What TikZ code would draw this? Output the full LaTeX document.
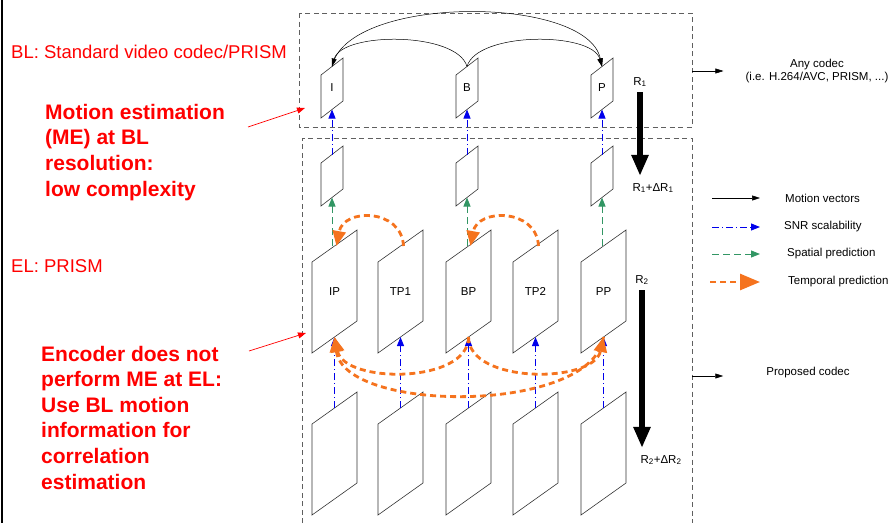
\documentclass[tikz,border=0pt]{standalone}
\usepackage{fontspec}
\setmainfont{Liberation Sans}
\usetikzlibrary{arrows.meta}

\definecolor{notered}{RGB}{255,0,0}
\definecolor{snrblue}{RGB}{0,0,235}
\definecolor{spatgreen}{RGB}{50,150,100}
\definecolor{temporange}{RGB}{245,115,30}
\definecolor{boxgray}{RGB}{95,95,95}

% one frame of the sequence: name, x, y of lower left corner, width, height, skew
\newcommand{\vframe}[6]{%
  \draw[frm] (#2,#3) -- ++(0,-#5) -- ++(#4,-#6) -- ++(0,#5) -- cycle;
  \coordinate (#1-t) at (#2+#4/2,#3-#5-#6/2);
  \coordinate (#1-b) at (#2+#4/2,#3-#6/2);
  \coordinate (#1-c) at (#2+#4/2,#3-#5/2-#6/2);
}

\tikzset{
  frm/.style={draw=black!80, line width=0.6pt},
  layerbox/.style={draw=boxgray, dash pattern=on 5pt off 3.5pt, line width=0.9pt},
  mv/.style={-{Triangle[length=8pt,width=5pt]}, line width=0.5pt},
  snr/.style={snrblue, line width=0.9pt, dash pattern=on 7pt off 3pt on 1pt off 3pt, -{Triangle[length=9pt,width=7pt]}},
  spat/.style={spatgreen, line width=0.9pt, dash pattern=on 7pt off 4pt, -{Triangle[length=9pt,width=7pt]}},
  temp/.style={temporange, line width=2.8pt, dash pattern=on 6pt off 4pt, -{Triangle[length=15pt,width=13pt]}},
  rate/.style={line width=5.5pt, -{Triangle[length=21pt,width=16pt]}},
  pointer/.style={notered, line width=0.7pt, -{Triangle[length=8pt,width=6pt]}},
  lbl/.style={font=\fontsize{11.5}{13.5}\selectfont, inner sep=0pt},
  note/.style={text=notered, inner sep=0pt, anchor=base west, align=left},
}

\begin{document}
\begin{tikzpicture}[x=1pt,y=-1pt]
  \useasboundingbox (0,0) rectangle (892,523);
  \draw[line width=2pt] (2,0) -- (2,523);

  % layers
  \draw[layerbox] (299,13) rectangle (692,127);
  \draw[layerbox] (302,523) -- (302,138) -- (692,138) -- (692,523);

  % base layer frames and their low resolution copies
  \foreach \nm/\x in {I/321,B/456,P/591} {
    \vframe{\nm}{\x}{118}{22}{43}{17}
    \node[lbl] (\nm-txt) at (\nm-c) {\nm};
    \vframe{\nm-el}{\x}{206}{22}{43}{17}
    \draw[snr] (\nm-el-t) -- (\nm-b);
  }

  % enhancement layer frames
  \foreach \nm/\x in {IP/312,TP1/378,BP/446,TP2/513,PP/581} {
    \vframe{\nm}{\x}{353}{45}{91}{32}
    \node[lbl] (\nm-txt) at (\nm-c) {\nm};
    \vframe{\nm-low}{\x}{515}{45}{91}{32}
    \draw[snr] (\nm-low-t) -- (\nm-b);
  }

  \draw[spat] (I-el-b |- IP-t) -- (I-el-b);
  \draw[spat] (B-el-b |- BP-t) -- (B-el-b);
  \draw[spat] (P-el-b |- PP-t) -- (P-el-b);

  % motion vectors
  \draw[mv] (B-t) .. controls +(-10,-35) and +(10,-35) .. (I-t);
  \draw[mv] (B-t) .. controls +(10,-35) and +(-10,-35) .. (P-t);
  \draw[mv] (I-t) .. controls +(15,-72) and +(-15,-72) .. (P-t);

  % temporal prediction
  \draw[temp] ([xshift=3pt]TP1-t) .. controls +(-2,-38) and +(7,-38) .. ([xshift=2pt]IP-t);
  \draw[temp] ([xshift=3pt]TP2-t) .. controls +(-2,-38) and +(7,-38) .. ([xshift=2pt]BP-t);
  \draw[temp] (BP-b) .. controls +(0,47) and +(10,47) .. (IP-b);
  \draw[temp] (PP-b) .. controls +(-10,77) and +(10,77) .. (IP-b);
  \draw[temp] (BP-b) .. controls +(0,47) and +(-10,47) .. (PP-b);

  % rates
  \node[lbl] (r1) at (640,82) {R\textsubscript{1}};
  \node[lbl] (r1d) at (653,188) {R\textsubscript{1}+ΔR\textsubscript{1}};
  \draw[rate] ([yshift=-5pt]r1.south) -- ([yshift=7pt]r1.south |- r1d.north);
  \node[lbl] (r2) at (642,280) {R\textsubscript{2}};
  \node[lbl] (r2d) at (661,460) {R\textsubscript{2}+ΔR\textsubscript{2}};
  \draw[rate] ([yshift=-5pt]r2.south) -- ([yshift=7pt]r2.south |- r2d.north);

  % codecs
  \coordinate (bl-out) at (692,71);
  \node[lbl, align=center] (anycodec) at (817,71) {Any codec\\(i.e. H.264/AVC, PRISM, ...)};
  \draw[mv] (bl-out) -- ([xshift=-22pt]anycodec.west |- bl-out);
  \coordinate (el-out) at (692,376);
  \node[lbl] (propcodec) at (808,373) {Proposed codec};
  \draw[mv] (el-out) -- ([xshift=-43pt]propcodec.west |- el-out);

  % legend
  \node[lbl, anchor=west] (lg-mv) at (785,198) {Motion vectors};
  \node[lbl, anchor=west] (lg-snr) at (784,227) {SNR scalability};
  \node[lbl, anchor=west] (lg-spat) at (787,254) {Spatial prediction};
  \node[lbl, anchor=west] (lg-temp) at (788,282) {Temporal prediction};
  \draw[mv] ([xshift=-73pt]lg-mv.west) -- ([xshift=-25pt]lg-mv.west);
  \draw[snr] ([xshift=-72pt]lg-snr.west) -- ([xshift=-24pt]lg-snr.west);
  \draw[spat] ([xshift=-75pt]lg-spat.west) -- ([xshift=-27pt]lg-spat.west);
  \draw[temp, -{Triangle[length=20pt,width=16pt]}] ([xshift=-78pt]lg-temp.west) -- ([xshift=-28pt]lg-temp.west);

  % notes (multi line nodes sit on the baseline of their last line)
  \node[note, font=\fontsize{18.5}{22}\selectfont] (bl-note) at (11,58) {BL: Standard video codec/PRISM};
  \node[note, font=\fontsize{18.5}{22}\selectfont] (el-note) at (11,272) {EL: PRISM};
  \node[note, font=\bfseries\fontsize{21}{25.6}\selectfont] (me-note) at (45,196)
    {Motion estimation\\(ME) at BL\\resolution:\\low complexity};
  \node[note, font=\bfseries\fontsize{21}{25.6}\selectfont] (enc-note) at (41,489)
    {Encoder does not\\perform ME at EL:\\Use BL motion\\information for\\correlation\\estimation};
  \coordinate (me-from) at (248,127);
  \coordinate (me-to) at (305,108);
  \draw[pointer] (me-from) -- (me-to);
  \coordinate (enc-from) at (249,351);
  \coordinate (enc-to) at (306,333);
  \draw[pointer] (enc-from) -- (enc-to);
\end{tikzpicture}
\end{document}
